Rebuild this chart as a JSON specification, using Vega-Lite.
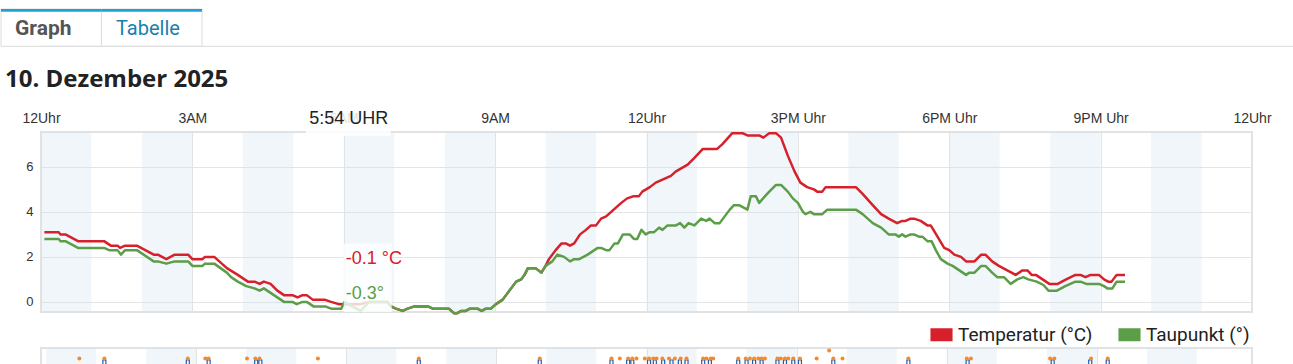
{
  "$schema": "https://vega.github.io/schema/vega-lite/v6.json",
  "background": "white",
  "padding": {"left": 0, "top": 8, "right": 0, "bottom": 0},
  "config": {
    "view": {"stroke": null},
    "axis": {"labelFont": "Liberation Sans", "labelColor": "#333333", "domain": false, "ticks": false, "title": null},
    "legend": {"padding": 0}
  },
  "datasets": {
    "reiter": [{"tab": "Graph"}, {"tab": "Tabelle"}],
    "baender": [
      {"von": "2025-12-10T00:00", "bis": "2025-12-10T01:00"},
      {"von": "2025-12-10T02:00", "bis": "2025-12-10T03:00"},
      {"von": "2025-12-10T04:00", "bis": "2025-12-10T05:00"},
      {"von": "2025-12-10T06:00", "bis": "2025-12-10T07:00"},
      {"von": "2025-12-10T08:00", "bis": "2025-12-10T09:00"},
      {"von": "2025-12-10T10:00", "bis": "2025-12-10T11:00"},
      {"von": "2025-12-10T12:00", "bis": "2025-12-10T13:00"},
      {"von": "2025-12-10T14:00", "bis": "2025-12-10T15:00"},
      {"von": "2025-12-10T16:00", "bis": "2025-12-10T17:00"},
      {"von": "2025-12-10T18:00", "bis": "2025-12-10T19:00"},
      {"von": "2025-12-10T20:00", "bis": "2025-12-10T21:00"},
      {"von": "2025-12-10T22:00", "bis": "2025-12-10T23:00"}
    ],
    "tooltip": [{"zeit": "2025-12-10T05:54", "temperatur": -0.1, "taupunkt": -0.3, "text_t": "-0.1 °C", "text_d": "-0.3°", "uhrzeit": "5:54 UHR"}],
    "temperatur": [
      {"zeit": "2025-12-10T00:04", "wert": 3.1}, {"zeit": "2025-12-10T00:21", "wert": 3.1}, {"zeit": "2025-12-10T00:23", "wert": 3.0},
      {"zeit": "2025-12-10T00:29", "wert": 3.0}, {"zeit": "2025-12-10T00:44", "wert": 2.7}, {"zeit": "2025-12-10T01:15", "wert": 2.7},
      {"zeit": "2025-12-10T01:23", "wert": 2.5}, {"zeit": "2025-12-10T01:31", "wert": 2.5}, {"zeit": "2025-12-10T01:34", "wert": 2.4},
      {"zeit": "2025-12-10T01:40", "wert": 2.5}, {"zeit": "2025-12-10T01:54", "wert": 2.5}, {"zeit": "2025-12-10T02:14", "wert": 2.1},
      {"zeit": "2025-12-10T02:19", "wert": 2.1}, {"zeit": "2025-12-10T02:29", "wert": 1.9}, {"zeit": "2025-12-10T02:39", "wert": 2.1},
      {"zeit": "2025-12-10T02:55", "wert": 2.1}, {"zeit": "2025-12-10T03:00", "wert": 1.9}, {"zeit": "2025-12-10T03:12", "wert": 1.9},
      {"zeit": "2025-12-10T03:15", "wert": 2.0}, {"zeit": "2025-12-10T03:26", "wert": 2.0}, {"zeit": "2025-12-10T03:41", "wert": 1.5},
      {"zeit": "2025-12-10T03:54", "wert": 1.2}, {"zeit": "2025-12-10T04:06", "wert": 0.9}, {"zeit": "2025-12-10T04:14", "wert": 0.9},
      {"zeit": "2025-12-10T04:20", "wert": 0.8}, {"zeit": "2025-12-10T04:25", "wert": 0.9}, {"zeit": "2025-12-10T04:33", "wert": 0.8},
      {"zeit": "2025-12-10T04:41", "wert": 0.5}, {"zeit": "2025-12-10T04:49", "wert": 0.3}, {"zeit": "2025-12-10T04:59", "wert": 0.3},
      {"zeit": "2025-12-10T05:05", "wert": 0.2}, {"zeit": "2025-12-10T05:11", "wert": 0.3}, {"zeit": "2025-12-10T05:16", "wert": 0.3},
      {"zeit": "2025-12-10T05:23", "wert": 0.1}, {"zeit": "2025-12-10T05:37", "wert": 0.1}, {"zeit": "2025-12-10T05:45", "wert": 0.0},
      {"zeit": "2025-12-10T05:54", "wert": -0.1}, {"zeit": "2025-12-10T06:05", "wert": -0.1}, {"zeit": "2025-12-10T06:20", "wert": -0.1},
      {"zeit": "2025-12-10T06:30", "wert": 0.0}, {"zeit": "2025-12-10T06:52", "wert": 0.0}, {"zeit": "2025-12-10T06:56", "wert": -0.2},
      {"zeit": "2025-12-10T07:02", "wert": -0.3}, {"zeit": "2025-12-10T07:10", "wert": -0.4}, {"zeit": "2025-12-10T07:16", "wert": -0.3},
      {"zeit": "2025-12-10T07:24", "wert": -0.2}, {"zeit": "2025-12-10T07:40", "wert": -0.2}, {"zeit": "2025-12-10T07:46", "wert": -0.3},
      {"zeit": "2025-12-10T08:05", "wert": -0.3}, {"zeit": "2025-12-10T08:11", "wert": -0.5}, {"zeit": "2025-12-10T08:15", "wert": -0.5},
      {"zeit": "2025-12-10T08:20", "wert": -0.4}, {"zeit": "2025-12-10T08:25", "wert": -0.4}, {"zeit": "2025-12-10T08:30", "wert": -0.3},
      {"zeit": "2025-12-10T08:39", "wert": -0.3}, {"zeit": "2025-12-10T08:44", "wert": -0.4}, {"zeit": "2025-12-10T08:49", "wert": -0.3},
      {"zeit": "2025-12-10T08:55", "wert": -0.3}, {"zeit": "2025-12-10T09:01", "wert": -0.1}, {"zeit": "2025-12-10T09:09", "wert": 0.1},
      {"zeit": "2025-12-10T09:15", "wert": 0.4}, {"zeit": "2025-12-10T09:19", "wert": 0.6}, {"zeit": "2025-12-10T09:25", "wert": 0.9},
      {"zeit": "2025-12-10T09:31", "wert": 1.0}, {"zeit": "2025-12-10T09:35", "wert": 1.2}, {"zeit": "2025-12-10T09:39", "wert": 1.5},
      {"zeit": "2025-12-10T09:48", "wert": 1.5}, {"zeit": "2025-12-10T09:55", "wert": 1.3}, {"zeit": "2025-12-10T10:00", "wert": 1.6},
      {"zeit": "2025-12-10T10:04", "wert": 1.9}, {"zeit": "2025-12-10T10:12", "wert": 2.3}, {"zeit": "2025-12-10T10:19", "wert": 2.6},
      {"zeit": "2025-12-10T10:24", "wert": 2.6}, {"zeit": "2025-12-10T10:29", "wert": 2.5}, {"zeit": "2025-12-10T10:34", "wert": 2.6},
      {"zeit": "2025-12-10T10:41", "wert": 3.0}, {"zeit": "2025-12-10T10:48", "wert": 3.2}, {"zeit": "2025-12-10T10:54", "wert": 3.4},
      {"zeit": "2025-12-10T11:00", "wert": 3.4}, {"zeit": "2025-12-10T11:06", "wert": 3.7}, {"zeit": "2025-12-10T11:12", "wert": 3.8},
      {"zeit": "2025-12-10T11:18", "wert": 4.0}, {"zeit": "2025-12-10T11:24", "wert": 4.2}, {"zeit": "2025-12-10T11:30", "wert": 4.4},
      {"zeit": "2025-12-10T11:37", "wert": 4.6}, {"zeit": "2025-12-10T11:45", "wert": 4.7}, {"zeit": "2025-12-10T11:51", "wert": 4.7},
      {"zeit": "2025-12-10T11:55", "wert": 4.9}, {"zeit": "2025-12-10T12:04", "wert": 5.1}, {"zeit": "2025-12-10T12:11", "wert": 5.3},
      {"zeit": "2025-12-10T12:29", "wert": 5.6}, {"zeit": "2025-12-10T12:35", "wert": 5.8}, {"zeit": "2025-12-10T12:49", "wert": 6.1},
      {"zeit": "2025-12-10T12:57", "wert": 6.4}, {"zeit": "2025-12-10T13:07", "wert": 6.8}, {"zeit": "2025-12-10T13:24", "wert": 6.8},
      {"zeit": "2025-12-10T13:30", "wert": 7.0}, {"zeit": "2025-12-10T13:42", "wert": 7.5}, {"zeit": "2025-12-10T13:54", "wert": 7.5},
      {"zeit": "2025-12-10T14:00", "wert": 7.4}, {"zeit": "2025-12-10T14:14", "wert": 7.4}, {"zeit": "2025-12-10T14:19", "wert": 7.3},
      {"zeit": "2025-12-10T14:26", "wert": 7.5}, {"zeit": "2025-12-10T14:34", "wert": 7.5}, {"zeit": "2025-12-10T14:40", "wert": 7.3},
      {"zeit": "2025-12-10T14:48", "wert": 6.5}, {"zeit": "2025-12-10T14:56", "wert": 5.8}, {"zeit": "2025-12-10T15:03", "wert": 5.3},
      {"zeit": "2025-12-10T15:11", "wert": 5.1}, {"zeit": "2025-12-10T15:19", "wert": 5.0}, {"zeit": "2025-12-10T15:23", "wert": 4.9},
      {"zeit": "2025-12-10T15:29", "wert": 4.9}, {"zeit": "2025-12-10T15:33", "wert": 5.1}, {"zeit": "2025-12-10T16:09", "wert": 5.1},
      {"zeit": "2025-12-10T16:17", "wert": 4.8}, {"zeit": "2025-12-10T16:29", "wert": 4.3}, {"zeit": "2025-12-10T16:39", "wert": 3.9},
      {"zeit": "2025-12-10T16:48", "wert": 3.7}, {"zeit": "2025-12-10T16:58", "wert": 3.5}, {"zeit": "2025-12-10T17:04", "wert": 3.6},
      {"zeit": "2025-12-10T17:08", "wert": 3.6}, {"zeit": "2025-12-10T17:14", "wert": 3.7}, {"zeit": "2025-12-10T17:18", "wert": 3.7},
      {"zeit": "2025-12-10T17:26", "wert": 3.6}, {"zeit": "2025-12-10T17:34", "wert": 3.4}, {"zeit": "2025-12-10T17:38", "wert": 3.4},
      {"zeit": "2025-12-10T17:46", "wert": 2.9}, {"zeit": "2025-12-10T17:54", "wert": 2.4}, {"zeit": "2025-12-10T18:00", "wert": 2.3},
      {"zeit": "2025-12-10T18:06", "wert": 2.1}, {"zeit": "2025-12-10T18:14", "wert": 2.0}, {"zeit": "2025-12-10T18:20", "wert": 1.8},
      {"zeit": "2025-12-10T18:30", "wert": 1.8}, {"zeit": "2025-12-10T18:38", "wert": 2.1}, {"zeit": "2025-12-10T18:43", "wert": 2.1},
      {"zeit": "2025-12-10T18:51", "wert": 1.8}, {"zeit": "2025-12-10T18:59", "wert": 1.6}, {"zeit": "2025-12-10T19:09", "wert": 1.4},
      {"zeit": "2025-12-10T19:19", "wert": 1.2}, {"zeit": "2025-12-10T19:27", "wert": 1.4}, {"zeit": "2025-12-10T19:33", "wert": 1.4},
      {"zeit": "2025-12-10T19:38", "wert": 1.2}, {"zeit": "2025-12-10T19:43", "wert": 1.2}, {"zeit": "2025-12-10T19:51", "wert": 1.0},
      {"zeit": "2025-12-10T19:59", "wert": 0.8}, {"zeit": "2025-12-10T20:09", "wert": 0.8}, {"zeit": "2025-12-10T20:19", "wert": 1.0},
      {"zeit": "2025-12-10T20:30", "wert": 1.2}, {"zeit": "2025-12-10T20:36", "wert": 1.2}, {"zeit": "2025-12-10T20:42", "wert": 1.1},
      {"zeit": "2025-12-10T20:48", "wert": 1.2}, {"zeit": "2025-12-10T20:58", "wert": 1.2}, {"zeit": "2025-12-10T21:04", "wert": 1.0},
      {"zeit": "2025-12-10T21:09", "wert": 0.9}, {"zeit": "2025-12-10T21:13", "wert": 0.9}, {"zeit": "2025-12-10T21:19", "wert": 1.2},
      {"zeit": "2025-12-10T21:29", "wert": 1.2}
    ],
    "taupunkt": [
      {"zeit": "2025-12-10T00:04", "wert": 2.8}, {"zeit": "2025-12-10T00:21", "wert": 2.8}, {"zeit": "2025-12-10T00:23", "wert": 2.7},
      {"zeit": "2025-12-10T00:29", "wert": 2.7}, {"zeit": "2025-12-10T00:44", "wert": 2.4}, {"zeit": "2025-12-10T01:15", "wert": 2.4},
      {"zeit": "2025-12-10T01:21", "wert": 2.3}, {"zeit": "2025-12-10T01:31", "wert": 2.3}, {"zeit": "2025-12-10T01:35", "wert": 2.1},
      {"zeit": "2025-12-10T01:40", "wert": 2.3}, {"zeit": "2025-12-10T01:54", "wert": 2.3}, {"zeit": "2025-12-10T02:14", "wert": 1.8},
      {"zeit": "2025-12-10T02:19", "wert": 1.8}, {"zeit": "2025-12-10T02:29", "wert": 1.7}, {"zeit": "2025-12-10T02:39", "wert": 1.8},
      {"zeit": "2025-12-10T02:55", "wert": 1.8}, {"zeit": "2025-12-10T03:00", "wert": 1.6}, {"zeit": "2025-12-10T03:12", "wert": 1.6},
      {"zeit": "2025-12-10T03:15", "wert": 1.7}, {"zeit": "2025-12-10T03:26", "wert": 1.7}, {"zeit": "2025-12-10T03:41", "wert": 1.3},
      {"zeit": "2025-12-10T03:46", "wert": 1.1}, {"zeit": "2025-12-10T03:54", "wert": 0.9}, {"zeit": "2025-12-10T04:04", "wert": 0.7},
      {"zeit": "2025-12-10T04:14", "wert": 0.6}, {"zeit": "2025-12-10T04:20", "wert": 0.5}, {"zeit": "2025-12-10T04:25", "wert": 0.6},
      {"zeit": "2025-12-10T04:33", "wert": 0.4}, {"zeit": "2025-12-10T04:41", "wert": 0.2}, {"zeit": "2025-12-10T04:49", "wert": 0.0},
      {"zeit": "2025-12-10T04:59", "wert": 0.0}, {"zeit": "2025-12-10T05:04", "wert": -0.1}, {"zeit": "2025-12-10T05:11", "wert": 0.0},
      {"zeit": "2025-12-10T05:16", "wert": 0.0}, {"zeit": "2025-12-10T05:24", "wert": -0.2}, {"zeit": "2025-12-10T05:38", "wert": -0.2},
      {"zeit": "2025-12-10T05:45", "wert": -0.3}, {"zeit": "2025-12-10T05:57", "wert": -0.3}, {"zeit": "2025-12-10T06:01", "wert": 0.0},
      {"zeit": "2025-12-10T06:10", "wert": -0.2}, {"zeit": "2025-12-10T06:20", "wert": -0.4}, {"zeit": "2025-12-10T06:30", "wert": 0.0},
      {"zeit": "2025-12-10T06:52", "wert": 0.0}, {"zeit": "2025-12-10T06:56", "wert": -0.2}, {"zeit": "2025-12-10T07:02", "wert": -0.3},
      {"zeit": "2025-12-10T07:10", "wert": -0.4}, {"zeit": "2025-12-10T07:16", "wert": -0.3}, {"zeit": "2025-12-10T07:24", "wert": -0.2},
      {"zeit": "2025-12-10T07:40", "wert": -0.2}, {"zeit": "2025-12-10T07:46", "wert": -0.3}, {"zeit": "2025-12-10T08:05", "wert": -0.3},
      {"zeit": "2025-12-10T08:11", "wert": -0.5}, {"zeit": "2025-12-10T08:15", "wert": -0.5}, {"zeit": "2025-12-10T08:20", "wert": -0.4},
      {"zeit": "2025-12-10T08:25", "wert": -0.4}, {"zeit": "2025-12-10T08:30", "wert": -0.3}, {"zeit": "2025-12-10T08:39", "wert": -0.3},
      {"zeit": "2025-12-10T08:44", "wert": -0.4}, {"zeit": "2025-12-10T08:49", "wert": -0.3}, {"zeit": "2025-12-10T08:55", "wert": -0.3},
      {"zeit": "2025-12-10T09:01", "wert": -0.1}, {"zeit": "2025-12-10T09:09", "wert": 0.1}, {"zeit": "2025-12-10T09:15", "wert": 0.4},
      {"zeit": "2025-12-10T09:19", "wert": 0.6}, {"zeit": "2025-12-10T09:25", "wert": 0.9}, {"zeit": "2025-12-10T09:31", "wert": 1.0},
      {"zeit": "2025-12-10T09:35", "wert": 1.2}, {"zeit": "2025-12-10T09:39", "wert": 1.5}, {"zeit": "2025-12-10T09:48", "wert": 1.5},
      {"zeit": "2025-12-10T09:55", "wert": 1.3}, {"zeit": "2025-12-10T10:00", "wert": 1.6}, {"zeit": "2025-12-10T10:08", "wert": 1.8},
      {"zeit": "2025-12-10T10:14", "wert": 2.1}, {"zeit": "2025-12-10T10:22", "wert": 2.0}, {"zeit": "2025-12-10T10:29", "wert": 1.8},
      {"zeit": "2025-12-10T10:34", "wert": 1.9}, {"zeit": "2025-12-10T10:40", "wert": 1.9}, {"zeit": "2025-12-10T10:50", "wert": 2.1},
      {"zeit": "2025-12-10T10:58", "wert": 2.3}, {"zeit": "2025-12-10T11:02", "wert": 2.4}, {"zeit": "2025-12-10T11:06", "wert": 2.4},
      {"zeit": "2025-12-10T11:12", "wert": 2.3}, {"zeit": "2025-12-10T11:16", "wert": 2.3}, {"zeit": "2025-12-10T11:22", "wert": 2.6},
      {"zeit": "2025-12-10T11:26", "wert": 2.6}, {"zeit": "2025-12-10T11:32", "wert": 3.0}, {"zeit": "2025-12-10T11:40", "wert": 3.0},
      {"zeit": "2025-12-10T11:45", "wert": 2.8}, {"zeit": "2025-12-10T11:49", "wert": 2.8}, {"zeit": "2025-12-10T11:54", "wert": 3.2},
      {"zeit": "2025-12-10T11:59", "wert": 3.0}, {"zeit": "2025-12-10T12:04", "wert": 3.1}, {"zeit": "2025-12-10T12:09", "wert": 3.1},
      {"zeit": "2025-12-10T12:15", "wert": 3.3}, {"zeit": "2025-12-10T12:19", "wert": 3.2}, {"zeit": "2025-12-10T12:25", "wert": 3.4},
      {"zeit": "2025-12-10T12:35", "wert": 3.4}, {"zeit": "2025-12-10T12:40", "wert": 3.5}, {"zeit": "2025-12-10T12:45", "wert": 3.3},
      {"zeit": "2025-12-10T12:50", "wert": 3.5}, {"zeit": "2025-12-10T12:57", "wert": 3.4}, {"zeit": "2025-12-10T13:05", "wert": 3.7},
      {"zeit": "2025-12-10T13:11", "wert": 3.6}, {"zeit": "2025-12-10T13:15", "wert": 3.7}, {"zeit": "2025-12-10T13:21", "wert": 3.5},
      {"zeit": "2025-12-10T13:27", "wert": 3.5}, {"zeit": "2025-12-10T13:33", "wert": 3.8}, {"zeit": "2025-12-10T13:39", "wert": 4.1},
      {"zeit": "2025-12-10T13:44", "wert": 4.3}, {"zeit": "2025-12-10T13:50", "wert": 4.3}, {"zeit": "2025-12-10T14:00", "wert": 4.1},
      {"zeit": "2025-12-10T14:04", "wert": 4.7}, {"zeit": "2025-12-10T14:10", "wert": 4.7}, {"zeit": "2025-12-10T14:14", "wert": 4.4},
      {"zeit": "2025-12-10T14:21", "wert": 4.7}, {"zeit": "2025-12-10T14:26", "wert": 4.9}, {"zeit": "2025-12-10T14:34", "wert": 5.2},
      {"zeit": "2025-12-10T14:40", "wert": 5.2}, {"zeit": "2025-12-10T14:48", "wert": 4.9}, {"zeit": "2025-12-10T14:54", "wert": 4.6},
      {"zeit": "2025-12-10T15:00", "wert": 4.4}, {"zeit": "2025-12-10T15:06", "wert": 4.0}, {"zeit": "2025-12-10T15:09", "wert": 3.9},
      {"zeit": "2025-12-10T15:15", "wert": 4.0}, {"zeit": "2025-12-10T15:19", "wert": 3.9}, {"zeit": "2025-12-10T15:29", "wert": 3.9},
      {"zeit": "2025-12-10T15:35", "wert": 4.1}, {"zeit": "2025-12-10T16:09", "wert": 4.1}, {"zeit": "2025-12-10T16:17", "wert": 3.9},
      {"zeit": "2025-12-10T16:23", "wert": 3.7}, {"zeit": "2025-12-10T16:29", "wert": 3.5}, {"zeit": "2025-12-10T16:39", "wert": 3.3},
      {"zeit": "2025-12-10T16:48", "wert": 3.0}, {"zeit": "2025-12-10T16:56", "wert": 3.0}, {"zeit": "2025-12-10T17:00", "wert": 2.9},
      {"zeit": "2025-12-10T17:04", "wert": 3.0}, {"zeit": "2025-12-10T17:08", "wert": 2.9}, {"zeit": "2025-12-10T17:14", "wert": 3.0},
      {"zeit": "2025-12-10T17:18", "wert": 3.0}, {"zeit": "2025-12-10T17:24", "wert": 2.9}, {"zeit": "2025-12-10T17:28", "wert": 2.9},
      {"zeit": "2025-12-10T17:34", "wert": 2.7}, {"zeit": "2025-12-10T17:39", "wert": 2.7}, {"zeit": "2025-12-10T17:44", "wert": 2.3},
      {"zeit": "2025-12-10T17:50", "wert": 1.9}, {"zeit": "2025-12-10T17:58", "wert": 1.7}, {"zeit": "2025-12-10T18:04", "wert": 1.6},
      {"zeit": "2025-12-10T18:12", "wert": 1.4}, {"zeit": "2025-12-10T18:20", "wert": 1.2}, {"zeit": "2025-12-10T18:24", "wert": 1.3},
      {"zeit": "2025-12-10T18:30", "wert": 1.3}, {"zeit": "2025-12-10T18:38", "wert": 1.6}, {"zeit": "2025-12-10T18:43", "wert": 1.6},
      {"zeit": "2025-12-10T18:51", "wert": 1.3}, {"zeit": "2025-12-10T18:57", "wert": 1.1}, {"zeit": "2025-12-10T19:05", "wert": 1.1},
      {"zeit": "2025-12-10T19:13", "wert": 0.8}, {"zeit": "2025-12-10T19:21", "wert": 1.0}, {"zeit": "2025-12-10T19:28", "wert": 1.1},
      {"zeit": "2025-12-10T19:34", "wert": 1.0}, {"zeit": "2025-12-10T19:44", "wert": 0.9}, {"zeit": "2025-12-10T19:52", "wert": 0.75},
      {"zeit": "2025-12-10T19:58", "wert": 0.5}, {"zeit": "2025-12-10T20:08", "wert": 0.5}, {"zeit": "2025-12-10T20:18", "wert": 0.7},
      {"zeit": "2025-12-10T20:30", "wert": 0.9}, {"zeit": "2025-12-10T20:36", "wert": 0.9}, {"zeit": "2025-12-10T20:43", "wert": 0.8},
      {"zeit": "2025-12-10T20:49", "wert": 0.8}, {"zeit": "2025-12-10T20:58", "wert": 0.8}, {"zeit": "2025-12-10T21:04", "wert": 0.7},
      {"zeit": "2025-12-10T21:08", "wert": 0.6}, {"zeit": "2025-12-10T21:14", "wert": 0.6}, {"zeit": "2025-12-10T21:19", "wert": 0.9},
      {"zeit": "2025-12-10T21:29", "wert": 0.9}
    ],
    "regen_balken": [
      {"zeit": "2025-12-10T01:10", "wert": 1.1}, {"zeit": "2025-12-10T02:50", "wert": 1.1}, {"zeit": "2025-12-10T03:15", "wert": 1.1},
      {"zeit": "2025-12-10T04:12", "wert": 1.1}, {"zeit": "2025-12-10T04:17", "wert": 1.1}, {"zeit": "2025-12-10T07:27", "wert": 1.1},
      {"zeit": "2025-12-10T09:52", "wert": 1.1}, {"zeit": "2025-12-10T11:18", "wert": 1.1}, {"zeit": "2025-12-10T11:38", "wert": 1.1},
      {"zeit": "2025-12-10T11:43", "wert": 1.1}, {"zeit": "2025-12-10T12:03", "wert": 1.1}, {"zeit": "2025-12-10T12:10", "wert": 1.1},
      {"zeit": "2025-12-10T12:20", "wert": 1.1}, {"zeit": "2025-12-10T12:30", "wert": 1.1}, {"zeit": "2025-12-10T12:40", "wert": 1.1},
      {"zeit": "2025-12-10T12:48", "wert": 1.1}, {"zeit": "2025-12-10T13:08", "wert": 1.1}, {"zeit": "2025-12-10T13:16", "wert": 1.1},
      {"zeit": "2025-12-10T13:50", "wert": 1.1}, {"zeit": "2025-12-10T14:00", "wert": 1.1}, {"zeit": "2025-12-10T14:09", "wert": 1.1},
      {"zeit": "2025-12-10T14:18", "wert": 1.1}, {"zeit": "2025-12-10T14:37", "wert": 1.1}, {"zeit": "2025-12-10T14:46", "wert": 1.1},
      {"zeit": "2025-12-10T14:56", "wert": 1.1}, {"zeit": "2025-12-10T15:04", "wert": 1.1}, {"zeit": "2025-12-10T15:44", "wert": 1.1},
      {"zeit": "2025-12-10T17:14", "wert": 1.1}, {"zeit": "2025-12-10T18:25", "wert": 1.1}, {"zeit": "2025-12-10T20:07", "wert": 1.1},
      {"zeit": "2025-12-10T20:52", "wert": 1.1}, {"zeit": "2025-12-10T21:13", "wert": 1.1}
    ],
    "regen_punkte": [
      {"zeit": "2025-12-10T00:40", "wert": 1.12}, {"zeit": "2025-12-10T01:10", "wert": 1.12}, {"zeit": "2025-12-10T02:50", "wert": 1.12},
      {"zeit": "2025-12-10T03:11", "wert": 1.12}, {"zeit": "2025-12-10T03:15", "wert": 1.12}, {"zeit": "2025-12-10T04:01", "wert": 1.12},
      {"zeit": "2025-12-10T04:11", "wert": 1.12}, {"zeit": "2025-12-10T04:16", "wert": 1.12}, {"zeit": "2025-12-10T05:26", "wert": 1.12},
      {"zeit": "2025-12-10T07:27", "wert": 1.12}, {"zeit": "2025-12-10T09:52", "wert": 1.12}, {"zeit": "2025-12-10T11:18", "wert": 1.12},
      {"zeit": "2025-12-10T11:28", "wert": 1.12}, {"zeit": "2025-12-10T11:38", "wert": 1.12}, {"zeit": "2025-12-10T11:43", "wert": 1.12},
      {"zeit": "2025-12-10T11:48", "wert": 1.12}, {"zeit": "2025-12-10T11:58", "wert": 1.12}, {"zeit": "2025-12-10T12:03", "wert": 1.12},
      {"zeit": "2025-12-10T12:08", "wert": 1.12}, {"zeit": "2025-12-10T12:12", "wert": 1.12}, {"zeit": "2025-12-10T12:19", "wert": 1.12},
      {"zeit": "2025-12-10T12:27", "wert": 1.12}, {"zeit": "2025-12-10T12:34", "wert": 1.12}, {"zeit": "2025-12-10T12:41", "wert": 1.12},
      {"zeit": "2025-12-10T12:48", "wert": 1.12}, {"zeit": "2025-12-10T13:08", "wert": 1.12}, {"zeit": "2025-12-10T13:12", "wert": 1.12},
      {"zeit": "2025-12-10T13:17", "wert": 1.12}, {"zeit": "2025-12-10T13:20", "wert": 1.12}, {"zeit": "2025-12-10T13:50", "wert": 1.12},
      {"zeit": "2025-12-10T13:59", "wert": 1.12}, {"zeit": "2025-12-10T14:04", "wert": 1.12}, {"zeit": "2025-12-10T14:09", "wert": 1.12},
      {"zeit": "2025-12-10T14:14", "wert": 1.12}, {"zeit": "2025-12-10T14:18", "wert": 1.12}, {"zeit": "2025-12-10T14:22", "wert": 1.12},
      {"zeit": "2025-12-10T14:37", "wert": 1.12}, {"zeit": "2025-12-10T14:41", "wert": 1.12}, {"zeit": "2025-12-10T14:46", "wert": 1.12},
      {"zeit": "2025-12-10T14:50", "wert": 1.12}, {"zeit": "2025-12-10T14:56", "wert": 1.12}, {"zeit": "2025-12-10T15:04", "wert": 1.12},
      {"zeit": "2025-12-10T15:24", "wert": 1.12}, {"zeit": "2025-12-10T15:39", "wert": 1.22}, {"zeit": "2025-12-10T15:44", "wert": 1.12},
      {"zeit": "2025-12-10T15:55", "wert": 1.12}, {"zeit": "2025-12-10T17:14", "wert": 1.12}, {"zeit": "2025-12-10T18:24", "wert": 1.12},
      {"zeit": "2025-12-10T18:29", "wert": 1.12}, {"zeit": "2025-12-10T20:04", "wert": 1.12}, {"zeit": "2025-12-10T20:09", "wert": 1.12},
      {"zeit": "2025-12-10T20:53", "wert": 1.12}, {"zeit": "2025-12-10T21:13", "wert": 1.12}
    ]
  },
  "vconcat": [
    {
      "width": 1253,
      "height": 41,
      "view": {"stroke": null},
      "layer": [
        {
          "data": {"name": "reiter"},
          "mark": {"type": "rect", "fill": "white", "stroke": "#dcdcdc", "strokeWidth": 1},
          "encoding": {
            "x": {"field": "tab", "type": "nominal", "scale": {"type": "band", "domain": ["Graph", "Tabelle"], "range": [-40, 161], "paddingInner": 0, "paddingOuter": 0}, "axis": null},
            "y": {"datum": 0, "type": "quantitative", "scale": {"domain": [0, 41], "range": [0, 41]}, "axis": null},
            "y2": {"datum": 41}
          }
        },
        {
          "data": {"name": "reiter"},
          "mark": {"type": "rect", "fill": "#1ba3d8"},
          "encoding": {
            "x": {"field": "tab", "type": "nominal"},
            "y": {"datum": 0, "type": "quantitative"},
            "y2": {"datum": 3}
          }
        },
        {
          "data": {"name": "reiter"},
          "transform": [{"filter": "datum.tab === 'Graph'"}],
          "mark": {"type": "text", "align": "left", "baseline": "alphabetic", "dx": 14, "font": "Roboto", "fontSize": 21, "fontWeight": "bold", "color": "#555555"},
          "encoding": {
            "x": {"field": "tab", "type": "nominal", "bandPosition": 0},
            "y": {"datum": 29, "type": "quantitative"},
            "text": {"field": "tab"}
          }
        },
        {
          "data": {"name": "reiter"},
          "transform": [{"filter": "datum.tab === 'Tabelle'"}],
          "mark": {"type": "text", "align": "left", "baseline": "alphabetic", "dx": 14.5, "font": "Roboto", "fontSize": 20, "color": "#1a80ad"},
          "encoding": {
            "x": {"field": "tab", "type": "nominal", "bandPosition": 0},
            "y": {"datum": 29, "type": "quantitative"},
            "text": {"field": "tab"}
          }
        },
        {
          "data": {"values": [{"linie": "Trenner"}]},
          "mark": {"type": "rule", "color": "#dcdcdc", "strokeWidth": 1},
          "encoding": {"y": {"datum": 41, "type": "quantitative"}}
        }
      ]
    },
    {
      "spacing": 36,
      "bounds": "flush",
      "vconcat": [
        {
          "width": 1211,
          "height": 180,
          "title": {"text": "10. Dezember 2025", "anchor": "start", "frame": "group", "dx": -36, "offset": 14, "font": "Open Sans", "fontSize": 24, "fontWeight": "bold", "color": "#222222"},
          "view": {"stroke": "#e2e2e2", "strokeWidth": 2},
          "layer": [
            {
              "data": {"name": "baender"},
              "mark": {"type": "rect", "fill": "#cfe0f0", "opacity": 0.3},
              "encoding": {
                "x": {
                  "field": "von", "type": "temporal",
                  "scale": {"domain": [{"year": 2025, "month": 12, "date": 10, "hours": 0}, {"year": 2025, "month": 12, "date": 11, "hours": 0}]},
                  "axis": {
                    "orient": "top", "grid": true, "gridColor": "#e4e4e4", "labelFontSize": 14, "labelPadding": 7, "labelColor": "#333333",
                    "labelOverlap": false, "labelFlush": false,
                    "values": [
                      {"year": 2025, "month": 12, "date": 10, "hours": 0}, {"year": 2025, "month": 12, "date": 10, "hours": 3},
                      {"year": 2025, "month": 12, "date": 10, "hours": 6}, {"year": 2025, "month": 12, "date": 10, "hours": 9},
                      {"year": 2025, "month": 12, "date": 10, "hours": 12}, {"year": 2025, "month": 12, "date": 10, "hours": 15},
                      {"year": 2025, "month": 12, "date": 10, "hours": 18}, {"year": 2025, "month": 12, "date": 10, "hours": 21},
                      {"year": 2025, "month": 12, "date": 11, "hours": 0}
                    ],
                    "labelExpr": "['12Uhr','3AM','6AM','9AM','12Uhr','3PM Uhr','6PM Uhr','9PM Uhr'][hours(datum.value) / 3]"
                  }
                },
                "x2": {"field": "bis"}
              }
            },
            {
              "data": {"name": "temperatur"},
              "mark": {"type": "line", "strokeWidth": 2.5, "strokeJoin": "round"},
              "encoding": {
                "x": {"field": "zeit", "type": "temporal"},
                "y": {
                  "field": "wert", "type": "quantitative",
                  "scale": {"domain": [-0.45, 7.55], "nice": false, "zero": false},
                  "axis": {"values": [0, 2, 4, 6], "grid": true, "gridColor": "#e4e4e4", "labelFontSize": 13, "labelPadding": 8, "labelColor": "#333333"}
                },
                "color": {
                  "datum": "Temperatur (°C)",
                  "scale": {"domain": ["Temperatur (°C)", "Taupunkt (°)"], "range": ["#d6202b", "#5c9e48"]},
                  "legend": {
                    "orient": "none", "legendX": 891, "legendY": 316, "direction": "horizontal", "title": null,
                    "labelFont": "Roboto", "labelFontSize": 19, "labelColor": "#222222", "labelOffset": 7,
                    "symbolType": "M-1.7,-1H1.7V1H-1.7Z", "symbolSize": 169, "symbolStrokeWidth": 0, "columnPadding": 25,
                    "encode": {"symbols": {"update": {"fill": {"scale": "color", "field": "value"}, "stroke": {"value": "transparent"}, "shape": {"value": "M-1.7,-1H1.7V1H-1.7Z"}, "opacity": {"value": 1}}}}
                  }
                }
              }
            },
            {
              "data": {"name": "taupunkt"},
              "mark": {"type": "line", "strokeWidth": 2.5, "strokeJoin": "round"},
              "encoding": {
                "x": {"field": "zeit", "type": "temporal"},
                "y": {"field": "wert", "type": "quantitative"},
                "color": {"datum": "Taupunkt (°)"}
              }
            },
            {
              "data": {"name": "tooltip"},
              "mark": {"type": "rect", "fill": "white", "opacity": 0.8},
              "encoding": {
                "x": {"datum": {"year": 2025, "month": 12, "date": 10, "hours": 6, "minutes": 0}, "type": "temporal"},
                "x2": {"datum": {"year": 2025, "month": 12, "date": 10, "hours": 6, "minutes": 57}},
                "y": {"datum": -0.45, "type": "quantitative"},
                "y2": {"datum": 2.6}
              }
            },
            {
              "data": {"name": "tooltip"},
              "mark": {"type": "text", "align": "left", "baseline": "middle", "dx": 7, "dy": -45, "font": "Liberation Sans", "fontSize": 18, "color": "#d6202b"},
              "encoding": {
                "x": {"field": "zeit", "type": "temporal"},
                "y": {"field": "temperatur", "type": "quantitative"},
                "text": {"field": "text_t"}
              }
            },
            {
              "data": {"name": "tooltip"},
              "mark": {"type": "text", "align": "left", "baseline": "middle", "dx": 7, "dy": -15, "font": "Liberation Sans", "fontSize": 18, "color": "#5c9e48"},
              "encoding": {
                "x": {"field": "zeit", "type": "temporal"},
                "y": {"field": "taupunkt", "type": "quantitative"},
                "text": {"field": "text_d"}
              }
            },
            {
              "data": {"name": "tooltip"},
              "mark": {"type": "rect", "fill": "white", "opacity": 0.85},
              "encoding": {
                "x": {"datum": {"year": 2025, "month": 12, "date": 10, "hours": 5, "minutes": 15}, "type": "temporal"},
                "x2": {"datum": {"year": 2025, "month": 12, "date": 10, "hours": 6, "minutes": 56}},
                "y": {"datum": 7.38, "type": "quantitative"},
                "y2": {"datum": 8.7}
              }
            },
            {
              "data": {"name": "tooltip"},
              "mark": {"type": "text", "align": "center", "baseline": "middle", "dx": 10, "dy": -13, "font": "Liberation Sans", "fontSize": 18, "color": "#222222"},
              "encoding": {
                "x": {"field": "zeit", "type": "temporal"},
                "y": {"datum": 7.55, "type": "quantitative"},
                "text": {"field": "uhrzeit"}
              }
            }
          ]
        },
        {
          "width": 1211,
          "height": 100,
          "view": {"stroke": "#e2e2e2", "strokeWidth": 2},
          "layer": [
            {
              "data": {"name": "baender"},
              "mark": {"type": "rect", "fill": "#cfe0f0", "opacity": 0.3},
              "encoding": {
                "x": {
                  "field": "von", "type": "temporal",
                  "scale": {"domain": [{"year": 2025, "month": 12, "date": 10, "hours": 0}, {"year": 2025, "month": 12, "date": 11, "hours": 0}]},
                  "axis": {
                    "orient": "bottom", "grid": true, "gridColor": "#e4e4e4", "labels": false,
                    "values": [
                      {"year": 2025, "month": 12, "date": 10, "hours": 3}, {"year": 2025, "month": 12, "date": 10, "hours": 6},
                      {"year": 2025, "month": 12, "date": 10, "hours": 9}, {"year": 2025, "month": 12, "date": 10, "hours": 12},
                      {"year": 2025, "month": 12, "date": 10, "hours": 15}, {"year": 2025, "month": 12, "date": 10, "hours": 18},
                      {"year": 2025, "month": 12, "date": 10, "hours": 21}
                    ]
                  }
                },
                "x2": {"field": "bis"}
              }
            },
            {
              "data": {"name": "regen_balken"},
              "mark": {"type": "bar", "width": 3, "fill": "white", "stroke": "#1f5fae", "strokeWidth": 1.2},
              "encoding": {
                "x": {"field": "zeit", "type": "temporal"},
                "y": {
                  "field": "wert", "type": "quantitative",
                  "scale": {"domain": [0, 1.25], "nice": false, "zero": true},
                  "axis": {"values": [1], "grid": false, "labelFontSize": 13, "labelPadding": 12, "labelColor": "#333333"}
                }
              }
            },
            {
              "data": {"name": "regen_punkte"},
              "mark": {"type": "circle", "size": 16, "color": "#f5892b", "opacity": 1},
              "encoding": {
                "x": {"field": "zeit", "type": "temporal"},
                "y": {"field": "wert", "type": "quantitative"}
              }
            }
          ]
        }
      ]
    }
  ],
  "spacing": 82,
  "bounds": "flush"
}
